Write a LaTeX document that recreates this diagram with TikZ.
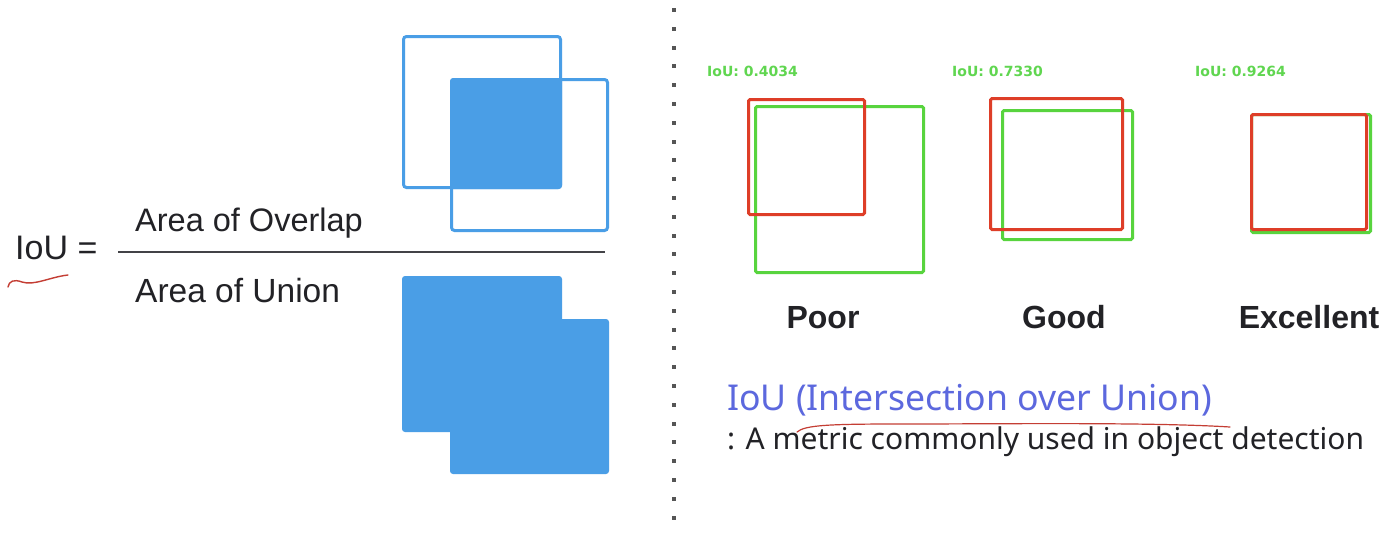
\documentclass[tikz,border=0pt]{standalone}
\usepackage{fontspec}
\setmainfont{Liberation Sans}
\newfontfamily\labfont{DejaVu Sans}
\newfontfamily\notofont{Noto Sans}
\definecolor{iouBlue}{RGB}{74,158,230}
\definecolor{boxRed}{RGB}{222,62,40}
\definecolor{boxGreen}{RGB}{88,212,62}
\definecolor{labGreen}{RGB}{96,214,80}
\definecolor{titleBlue}{RGB}{92,104,222}
\definecolor{penRed}{RGB}{196,62,52}
\definecolor{inkDark}{RGB}{34,34,38}
\definecolor{dotGray}{RGB}{85,85,85}
\tikzset{
  txt/.style={anchor=base west, inner sep=0pt, text=inkDark},
  bluebox/.style={draw=iouBlue, line width=3pt, rounded corners=3pt},
  bluefill/.style={fill=iouBlue, rounded corners=3pt},
  redbox/.style={draw=boxRed, line width=3pt, rounded corners=1.5pt},
  greenbox/.style={draw=boxGreen, line width=3pt, rounded corners=1.5pt},
  ioulab/.style={anchor=base west, inner sep=0pt, text=labGreen, font=\labfont\bfseries\fontsize{14}{16}\selectfont},
  grade/.style={anchor=base, inner sep=0pt, text=inkDark, font=\bfseries\fontsize{32}{38}\selectfont},
  pen/.style={draw=penRed, line width=1.4pt, line cap=round}
}
\begin{document}
\begin{tikzpicture}[x=1pt,y=-1pt]
\useasboundingbox[fill=white] (0,0) rectangle (1394,536);

% ---- left: formula ----
\node[txt, font=\fontsize{34}{40}\selectfont] (iou) at (15,259) {IoU =};
\node[txt, font=\fontsize{32.5}{40}\selectfont] (num) at (135,231) {Area of Overlap};
\node[txt, font=\fontsize{33.5}{40}\selectfont] (den) at (135,302) {Area of Union};
\coordinate (fracL) at (118,252);
\coordinate (fracR) at (605,252);
\draw[line width=2pt, inkDark!85] (fracL) -- (fracR);

% squiggle under IoU
\draw[pen] (8,287) .. controls (9,281) and (14,279) .. (22,282)
  .. controls (34,286) and (50,277) .. (68,275);

% overlap figure
\draw[bluebox] (403.5,36.5) rectangle (560.5,187.5);
\draw[bluebox] (451.5,79.5) rectangle (607.5,230.5);
\fill[bluefill] (450,78) rectangle (562,189);

% union figure
\fill[bluefill] (402,276) rectangle (562,432);
\fill[bluefill] (450,319) rectangle (609,474);

% ---- divider ----
\foreach \i in {0,...,27}{
  \fill[dotGray] (672,{8+\i*18.8}) rectangle (676,{12+\i*18.8});
}

% ---- right: examples ----
\node[ioulab] (l1) at (707,76) {IoU: 0.4034};
\node[ioulab] (l2) at (952,76) {IoU: 0.7330};
\node[ioulab] (l3) at (1195,76) {IoU: 0.9264};

\draw[greenbox] (755.5,106.5) rectangle (923.5,272.5);
\draw[redbox] (748.5,99.5) rectangle (864.5,214.5);

\draw[greenbox] (1002.5,110.5) rectangle (1132.5,239.5);
\draw[redbox] (990.5,98.5) rectangle (1122.5,229.5);

\draw[greenbox] (1251.5,114.5) rectangle (1370.5,232.5);
\draw[redbox] (1251.5,114.5) rectangle (1366.5,229.5);

\node[grade] (poor) at (823,328) {Poor};
\node[grade] (good) at (1064,328) {Good};
\node[grade] (exc) at (1309,328) {Excellent};

% ---- bottom text ----
\node[anchor=base west, inner sep=0pt, text=titleBlue, font=\notofont\fontsize{35.6}{42}\selectfont] (title) at (727,410) {IoU (Intersection over Union)};
\node[anchor=base west, inner sep=0pt, text=inkDark, font=\notofont\fontsize{30}{36}\selectfont] (desc) at (727,449) {: A metric commonly used in object detection};

\draw[pen, line width=1.2pt] (797,432) .. controls (805,425) and (830,424) .. (900,424)
  .. controls (1000,424) and (1150,422) .. (1230,427);
\end{tikzpicture}
\end{document}
